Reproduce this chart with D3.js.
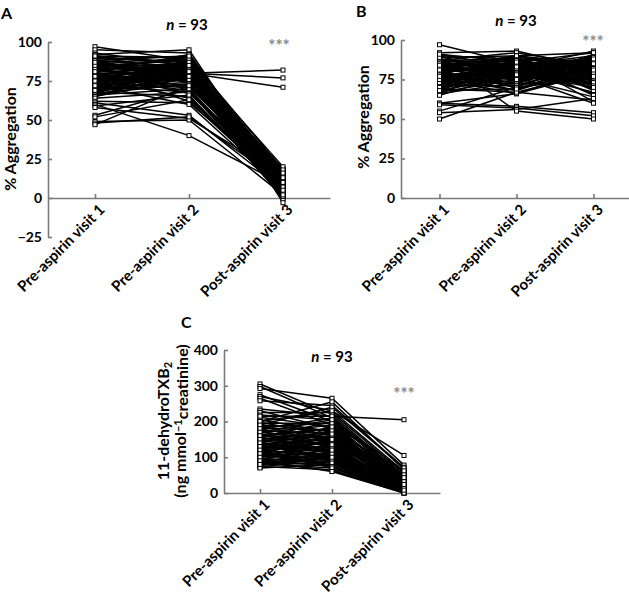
<!DOCTYPE html>
<html><head><meta charset="utf-8">
<script src="https://cdn.jsdelivr.net/npm/d3@7"></script>
<style>
html,body{margin:0;padding:0;background:#fff;}
text{font-family:Lato,"Open Sans",sans-serif;font-weight:bold;}
</style></head>
<body><svg id="c" width="629" height="596"></svg>
<script>
const categories = ["Pre-aspirin visit 1", "Pre-aspirin visit 2", "Post-aspirin visit 3"];

// Panel A: % aggregation (93 subjects)
const aVisit1 = [97,95,93,92,91,90,90,89,88,88, 87,87,86,86,85,85,84,84,83,83, 82,82,81,81,80,80,80,79,79,78,
  78,78,77,77,76,76,76,75,75,75, 74,74,73,73,72,72,72,71,71,70, 70,70,69,69,68,68,67,67,66,66,
  65,65,64,84,82,79,77,74,71,88, 86,83,80,76,73,69,85,81,78,75, 62,61,60,59,58,53,52,49,48,47, 91,87,72];
const aVisit2 = [88,93,85,95,90,82,87,91,78,84, 80,89,83,76,88,81,86,79,90,74, 85,77,83,92,79,80,70,86,75,82,
  88,72,84,78,81,69,87,80,76,83, 79,85,71,82,77,88,68,80,74,83, 76,86,72,81,78,65,84,73,80,70,
  77,82,68,89,75,83,64,80,86,91, 79,84,67,87,76,73,82,62,81,78, 61,53,40,66,51,70,63,50,52,72, 85,78,60];
const aVisit3 = [12,8,15,5,18,10,3,14,7,11, 9,16,2,13,6,19,10,4,12,8, 15,1,11,7,17,82,5,13,9,14,
  3,10,18,6,12,0,8,77,16,4, 11,7,14,2,9,20,6,13,10,5, 17,8,12,-1,15,4,9,11,71,3,
  13,7,10,16,2,12,6,14,9,-3, 11,5,15,8,1,13,10,7,18,4, 12,6,9,3,14,8,11,2,10,16, 7,13,5];

// Panel B: % aggregation (93 subjects)
const bVisit1 = [97,92,91,90,90,89,88,88,87,86, 86,85,85,84,84,83,83,82,82,81, 81,80,80,80,79,79,78,78,77,77,
  76,76,76,75,75,74,74,73,73,72, 72,71,71,70,70,69,69,68,68,67, 67,66,66,65,88,85,82,79,76,73,
  84,81,78,75,72,69,90,87,83,80, 77,74,71,86,82,79,85,78,73,70, 60,60,59,55,54,50,89,81,75,68, 91,84,77];
const bVisit2 = [85,93,82,88,76,90,84,79,92,80, 87,74,83,89,78,86,72,81,90,77, 84,88,70,83,86,75,89,80,82,73,
  85,79,68,87,76,83,81,90,74,86, 78,84,71,88,80,67,82,77,85,75, 81,73,87,79,69,84,78,86,72,83,
  76,89,80,66,85,82,74,88,79,83, 71,86,77,81,90,68,84,75,87,80, 58,66,57,70,56,67,55,82,79,69, 86,78,83];
const bVisit3 = [88,82,93,76,85,79,90,72,84,87, 80,91,74,86,83,69,88,78,92,81, 75,85,89,66,82,87,71,84,79,90,
  83,77,86,80,64,88,73,85,81,76, 89,70,84,78,87,62,82,75,86,79, 72,88,81,67,85,77,90,83,74,80,
  86,68,84,79,88,76,82,61,87,73, 85,80,60,89,78,83,71,86,65,84, 54,82,52,76,63,79,50,88,70,81, 92,77,85];

// Panel C: 11-dehydroTXB2 (ng/mmol creatinine)
const cVisit1 = [305,298,292,275,270,265,258,235,230,225, 218,212,205,200,198,195,190,186,182,178, 175,172,168,165,162,160,157,155,152,150,
  148,145,143,140,138,136,134,132,130,128, 126,124,122,120,118,116,114,112,110,108, 106,104,102,100,98,96,94,92,90,88,
  86,84,82,80,78,76,74,72,70,185, 170,158,146,135,125,115,105,95,88,215, 200,190,180,170,160,150,140,130,120,110, 100,90,80];
const cVisit2 = [220,210,265,200,230,190,245,215,180,225, 205,185,170,255,160,195,240,150,175,210, 165,140,190,130,180,155,120,200,145,170,
  135,160,110,185,125,150,100,175,140,115, 155,95,130,170,105,145,120,90,160,110, 85,130,100,150,80,120,95,140,75,110,
  90,125,70,105,85,115,65,100,80,195, 150,180,125,95,140,75,110,85,62,215, 230,175,145,205,135,165,95,120,70,185, 150,60,100];
const cVisit3 = [45,30,78,20,60,15,72,38,10,55, 42,25,18,65,12,35,70,8,28,50, 22,5,40,14,33,26,6,48,19,30,
  11,36,3,44,16,24,2,39,20,9, 31,4,17,46,7,27,13,1,34,10, 0,21,6,29,2,15,8,25,3,12,
  5,18,1,9,4,14,0,11,7,58, 23,52,13,6,26,2,16,4,1,205, 105,37,19,62,10,32,5,15,3,43, 24,0,8];

const ticksA = [-25, 0, 25, 50, 75, 100];
const ticksB = [0, 25, 50, 75, 100];
const ticksC = [0, 100, 200, 300, 400];

const svg = d3.select("#c");
const AXIS = "#7a7a7a";

function panel(o) {
  const g = svg.append("g");
  const x = d3.scalePoint().domain(categories).range(o.xr).padding(0.5);
  const y = d3.scaleLinear().domain(o.yd).range(o.yr);
  const rows = o.v1.map((d, i) => [o.v1[i], o.v2[i], o.v3[i]]);
  const y0 = y(o.xAxisAt);

  // axes
  const ya = d3.axisLeft(y).tickValues(o.ticks).tickSizeInner(-4).tickSizeOuter(0).tickPadding(6);
  const yg = g.append("g").attr("transform", `translate(${o.xr[0]},0)`).call(ya);
  const xa = d3.axisBottom(x).tickSizeInner(-4).tickSizeOuter(0).tickFormat("");
  const xg = g.append("g").attr("transform", `translate(0,${y0})`).call(xa);
  [yg, xg].forEach(a => {
    a.selectAll("path,line").attr("stroke", AXIS).attr("stroke-width", 1.6);
  });
  yg.selectAll("text").attr("fill", "#000").style("font-size", "14px").style("font-family", "Lato,sans-serif").style("font-weight", "bold");

  // lines
  const line = d3.line().x((d, j) => x(categories[j])).y(d => y(d));
  g.append("g").selectAll("path").data(rows).join("path")
    .attr("d", line).attr("fill", "none").attr("stroke", "#000").attr("stroke-width", 1.5);

  // category labels
  g.selectAll("text.cat").data(categories).join("text").attr("class", "cat")
    .attr("transform", d => `translate(${x(d) + 7},${y0 + 9}) rotate(-45)`)
    .attr("text-anchor", "end").attr("dy", "0.35em")
    .style("font-size", "15px").text(d => d);

  // markers
  const pts = [];
  rows.forEach(r => r.forEach((v, j) => pts.push([categories[j], v])));
  g.append("g").selectAll("rect").data(pts).join("rect")
    .attr("x", d => x(d[0]) - 2).attr("y", d => y(d[1]) - 2)
    .attr("width", 4).attr("height", 4)
    .attr("fill", "#fff").attr("stroke", "#000").attr("stroke-width", 1);

  // n = 93
  const nt = g.append("text").attr("x", o.nPos[0]).attr("y", o.nPos[1]).attr("text-anchor", "middle").style("font-size", "15px");
  nt.append("tspan").style("font-style", "italic").text("n");
  nt.append("tspan").text(" = 93");

  // ***
  g.append("text").attr("x", o.starPos[0]).attr("y", o.starPos[1]).attr("text-anchor", "middle")
    .attr("fill", "#8a8a8a").style("font-size", "17px").text("***");

  // panel letter
  g.append("text").attr("x", o.letterPos[0]).attr("y", o.letterPos[1]).style("font-size", "16px").text(o.letter);

  // y title
  if (o.ytitle) {
    g.append("text").attr("transform", `translate(${o.ytPos[0]},${o.ytPos[1]}) rotate(-90)`)
      .attr("text-anchor", "middle").style("font-size", "16px").text(o.ytitle);
  }
  return g;
}

panel({v1: aVisit1, v2: aVisit2, v3: aVisit3, xr: [48, 330], yd: [-25, 100], yr: [237, 42], xAxisAt: 0,
  ticks: ticksA, nPos: [187, 30], starPos: [279, 52], letter: "A", letterPos: [1, 19],
  ytitle: "% Aggregation", ytPos: [16, 139]});
panel({v1: bVisit1, v2: bVisit2, v3: bVisit3, xr: [401, 632], yd: [0, 100], yr: [198, 40], xAxisAt: 0,
  ticks: ticksB, nPos: [516, 26], starPos: [593, 48], letter: "B", letterPos: [356, 17],
  ytitle: "% Aggregation", ytPos: [369, 117]});
const gc = panel({v1: cVisit1, v2: cVisit2, v3: cVisit3, xr: [224, 440], yd: [0, 400], yr: [493, 350], xAxisAt: 0,
  ticks: ticksC, nPos: [332, 362], starPos: [404, 400], letter: "C", letterPos: [181, 328]});

// C y-title (two lines)
const t1 = gc.append("text").attr("transform", "translate(169,421) rotate(-90)").attr("text-anchor", "middle").style("font-size", "16px");
t1.append("tspan").text("11-dehydroTXB");
t1.append("tspan").attr("dy", "0.3em").style("font-size", "11px").text("2");
const t2 = gc.append("text").attr("transform", "translate(186,421) rotate(-90)").attr("text-anchor", "middle").style("font-size", "16px");
t2.append("tspan").text("(ng mmol");
t2.append("tspan").attr("dy", "-0.4em").style("font-size", "11px").text("\u22121");
t2.append("tspan").attr("dy", "0.4em").text("creatinine)");
</script></body></html>
